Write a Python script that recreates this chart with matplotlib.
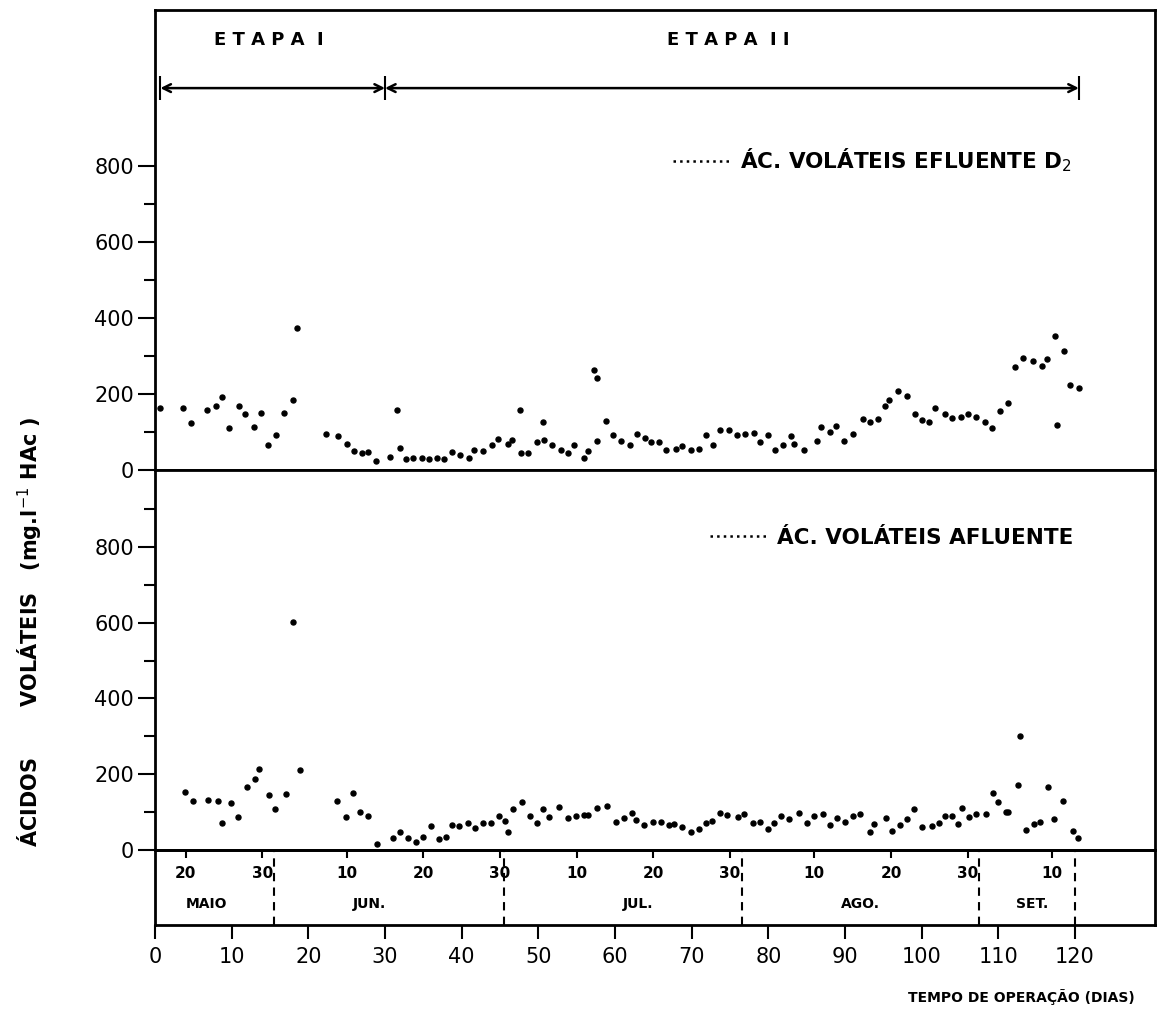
import matplotlib
matplotlib.use("Agg")
import matplotlib.pyplot as plt
from matplotlib.lines import Line2D

# ---- data (day of operation, mg/l HAc) ----
efl_day = [0.7, 3.6, 4.7, 6.8, 8.0, 8.7, 9.7, 10.9, 11.8, 12.9, 13.8, 14.8, 15.8,
           16.8, 18.0, 18.5, 22.3, 23.9, 25.0, 26.0, 27.0, 27.8, 28.8, 30.7, 31.5,
           32.0, 32.7, 33.7, 34.8, 35.8, 36.8, 37.7, 38.7, 39.8, 41.0, 41.6, 42.8,
           43.9, 44.7, 46.0, 46.6, 47.6, 47.8, 48.7, 49.8, 50.6, 50.8, 51.8, 52.9,
           53.9, 54.7, 55.9, 56.5, 57.3, 57.7, 57.6, 58.8, 59.7, 60.8, 61.9, 62.9,
           63.9, 64.7, 65.7, 66.7, 67.9, 68.8, 69.9, 71.0, 71.9, 72.8, 73.7, 74.9,
           75.9, 77.0, 78.1, 78.9, 79.9, 80.9, 81.9, 83.0, 83.4, 84.6, 86.4, 86.9,
           88.0, 88.8, 89.9, 91.0, 92.3, 93.3, 94.3, 95.2, 95.8, 96.9, 98.1, 99.1,
           100.0, 100.9, 101.7, 103.1, 104.0, 105.1, 106.0, 107.1, 108.2, 109.2,
           110.2, 111.3, 112.2, 113.2, 114.5, 115.7, 116.4, 117.4, 117.7, 118.6,
           119.4, 120.5]
efl_val = [163, 164, 125, 157, 169, 193, 110, 169, 148, 114, 151, 65, 91,
           151, 185, 374, 95, 89, 69, 50, 46, 47, 25, 34, 158,
           57, 30, 31, 32, 30, 32, 29, 48, 39, 32, 53, 50,
           66, 82, 69, 79, 158, 46, 46, 74, 126, 79, 66, 53,
           45, 67, 32, 50, 263, 243, 77, 130, 92, 76, 66, 96,
           83, 75, 74, 53, 55, 64, 52, 56, 93, 67, 106, 106,
           92, 96, 98, 73, 92, 53, 66, 89, 69, 53, 77, 112,
           100, 117, 77, 96, 134, 127, 134, 169, 185, 207, 194, 148,
           131, 126, 164, 147, 137, 139, 148, 140, 127, 111,
           156, 176, 270, 294, 287, 273, 291, 353, 118, 313,
           224, 215]

afl_day = [3.9, 5.0, 6.9, 8.2, 8.8, 9.9, 10.8, 12.0, 13.1, 13.6, 14.9, 15.7, 17.1,
           18.0, 18.9, 23.8, 24.9, 25.8, 26.8, 27.8, 29.0, 31.0, 31.9, 33.0, 34.0,
           35.0, 36.0, 37.0, 38.0, 38.7, 39.7, 40.8, 41.8, 42.8, 43.8, 44.9, 45.7,
           46.0, 46.7, 47.9, 48.9, 49.8, 50.6, 51.4, 52.7, 53.9, 54.9, 55.9, 56.5,
           57.7, 58.9, 60.1, 61.2, 62.2, 62.7, 63.8, 65.0, 66.0, 67.0, 67.7, 68.8,
           69.9, 71.0, 71.9, 72.7, 73.7, 74.6, 76.0, 76.8, 78.0, 78.9, 79.9, 80.8,
           81.7, 82.7, 84.0, 85.0, 85.9, 87.1, 88.0, 89.0, 90.0, 91.1, 91.9, 93.2,
           93.8, 95.3, 96.1, 97.2, 98.1, 99.0, 100.1, 101.3, 102.2, 103.1, 104.0,
           104.7, 105.3, 106.2, 107.1, 108.4, 109.3, 110.0, 111.0, 111.3, 112.6,
           112.8, 113.6, 114.7, 115.4, 116.5, 117.2, 118.4, 119.7, 120.4]
afl_val = [153, 129, 133, 129, 71, 124, 87, 167, 188, 215, 145, 109, 147,
           602, 210, 128, 88, 151, 99, 89, 17, 31, 47, 31, 21,
           34, 63, 28, 34, 65, 64, 72, 57, 72, 72, 90, 77,
           47, 109, 127, 90, 72, 109, 87, 113, 85, 91, 92, 92,
           110, 115, 75, 85, 97, 78, 65, 74, 75, 65, 69, 60,
           48, 55, 70, 77, 98, 92, 87, 96, 72, 73, 55, 72,
           90, 81, 98, 72, 89, 96, 65, 85, 74, 90, 94, 48,
           69, 84, 51, 67, 81, 107, 61, 64, 70, 89, 89,
           68, 111, 87, 95, 95, 150, 126, 101, 101, 172,
           302, 53, 69, 73, 165, 82, 129, 50, 31]

stage_edges = [0.7, 30, 120.5]
stage_names = ["E T A P A  I", "E T A P A  I I"]

month_edges = [15.5, 45.5, 76.5, 107.5, 120]
month_names = ["MAIO", "JUN.", "JUL.", "AGO.", "SET."]
month_centers = [6.7, 28, 63, 92, 114.4]
month_day_pos = [4, 14, 25, 35, 45, 55, 65, 75, 86, 96, 106, 117]
month_day_lbl = ["20", "30", "10", "20", "30", "10", "20", "30", "10", "20", "30", "10"]

day_ticks = list(range(0, 121, 10))
y_major = [0, 200, 400, 600, 800]

W, H = 1158, 1010
fig = plt.figure(figsize=(W / 100, H / 100), dpi=100)

x0 = 155 / W
xw = 1000 / W
ax1 = fig.add_axes([x0, 1 - 470 / H, xw, 460 / H])
ax2 = fig.add_axes([x0, 1 - 850 / H, xw, 380 / H])
ax3 = fig.add_axes([x0, 1 - 925 / H, xw, 75 / H])

xmax = 1000 / 7.667

for ax in (ax1, ax2, ax3):
    ax.set_xlim(0, xmax)
    for s in ax.spines.values():
        s.set_linewidth(2)

ax1.set_ylim(0, 460 / 0.38)
ax2.set_ylim(0, 380 / 0.379)

for ax, minor in ((ax1, [100, 300, 500, 700]), (ax2, [100, 300, 500, 700, 900])):
    ax.set_xticks([])
    ax.set_yticks(y_major)
    ax.set_yticks(minor, minor=True)
    ax.tick_params(axis="y", which="major", direction="out", length=12, width=1.5,
                   pad=3, labelsize=15)
    ax.tick_params(axis="y", which="minor", direction="out", length=8, width=1.5)

ax1.plot(efl_day, efl_val, "o", color="black", ms=3.6, clip_on=False)
ax2.plot(afl_day, afl_val, "o", color="black", ms=3.6, clip_on=False)

# stage arrows
arrow_y = 1005
for a, b, name in zip(stage_edges[:-1], stage_edges[1:], stage_names):
    ax1.annotate("", xy=(a, arrow_y), xytext=(b, arrow_y),
                 arrowprops=dict(arrowstyle="<->", color="black", lw=1.8,
                                 shrinkA=0, shrinkB=0, mutation_scale=14))
    ax1.text((a + b) / 2 - 0.5, 1132, name, ha="center", va="center",
             fontsize=13, fontweight="bold")
ax1.vlines(stage_edges, 974, 1036, color="black", lw=1.5)

# legends
h = [Line2D([], [], ls=":", color="black", lw=1.8)]
ax1.legend(h, ["ÁC. VOLÁTEIS EFLUENTE D$_2$"], loc="center left",
           bbox_to_anchor=(0.518, 0.674), frameon=False, handlelength=2.6,
           handletextpad=0.5, borderpad=0, borderaxespad=0,
           prop=dict(size=15.5, weight="bold"))
ax2.legend(h, ["ÁC. VOLÁTEIS AFLUENTE"], loc="center left",
           bbox_to_anchor=(0.555, 0.821), frameon=False, handlelength=2.6,
           handletextpad=0.5, borderpad=0, borderaxespad=0,
           prop=dict(size=15.5, weight="bold"))

# month band
ax3.set_ylim(0, 1)
ax3.set_yticks([])
ax3.set_xticks(day_ticks)
ax3.tick_params(axis="x", direction="out", length=10, width=1.5, pad=6, labelsize=15)
ax3.vlines(month_edges, 0, 1, colors="black", linestyles=(0, (4, 3)), lw=1.5)
for c, m in zip(month_centers, month_names):
    ax3.text(c, 0.28, m, ha="center", va="center", fontsize=10, fontweight="bold")
sec = ax3.secondary_xaxis("top")
sec.set_xticks(month_day_pos, labels=month_day_lbl)
sec.tick_params(direction="in", length=6, width=1.5, pad=-22, labelsize=11)
for lab in sec.get_xticklabels():
    lab.set_fontweight("bold")
sec.spines["top"].set_linewidth(2)

fig.text(30 / W, 1 - 632 / H, "ÁCIDOS       VOLÁTEIS   (mg.l$^{-1}$ HAc )",
         rotation=90, ha="center", va="center", fontsize=15, fontweight="bold")
fig.text(1135 / W, 1 - 997 / H, "TEMPO DE OPERAÇÃO (DIAS)", ha="right",
         va="center", fontsize=10, fontweight="bold")

fig.savefig("out.png", dpi=100, facecolor="white")
